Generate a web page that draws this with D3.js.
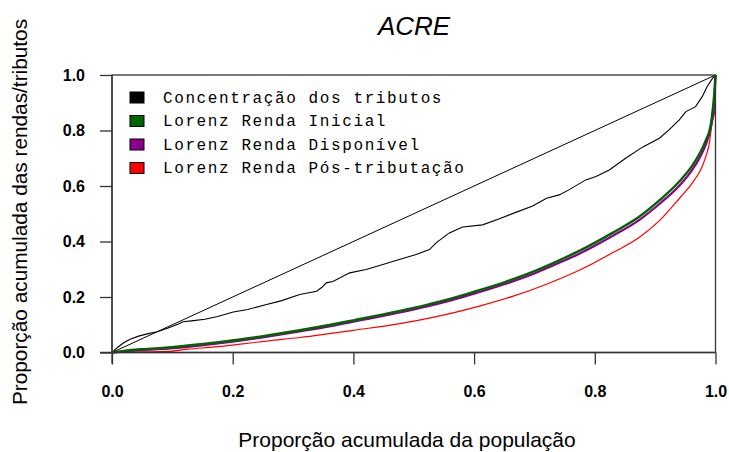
<!DOCTYPE html>
<html>
<head>
<meta charset="utf-8">
<script src="https://cdn.jsdelivr.net/npm/d3@7"></script>
<style>
  html, body { margin: 0; padding: 0; background: #fff; }
  svg { display: block; }
</style>
</head>
<body>
<svg id="chart" width="729" height="452"></svg>
<script>
// ---- data ----
const title = "ACRE";
const xLabel = "Proporção acumulada da população";
const yLabel = "Proporção acumulada das rendas/tributos";
const tickValues = [0, 0.2, 0.4, 0.6, 0.8, 1.0];
const seriesNames = ["Concentração dos tributos", "Lorenz Renda Inicial", "Lorenz Renda Disponível", "Lorenz Renda Pós-tributação"];
const seriesColors = ["#000000", "#006400", "#8B008B", "#FF0000"];

const equalityX = [0, 1];
const equalityY = [0, 1];

const concX = [0, 0.01, 0.02, 0.03, 0.044, 0.06, 0.075, 0.093, 0.11, 0.118, 0.135, 0.154, 0.175, 0.201, 0.225, 0.256, 0.28, 0.311, 0.339, 0.348, 0.355, 0.366, 0.394, 0.421, 0.449, 0.476, 0.504, 0.526, 0.537, 0.548, 0.559, 0.581, 0.614, 0.642, 0.669, 0.697, 0.72, 0.741, 0.757, 0.785, 0.802, 0.824, 0.851, 0.879, 0.907, 0.923, 0.94, 0.951, 0.967, 0.978, 0.986, 0.995, 1];
const concY = [0, 0.02, 0.036, 0.048, 0.059, 0.068, 0.075, 0.088, 0.103, 0.111, 0.115, 0.12, 0.13, 0.146, 0.155, 0.173, 0.186, 0.209, 0.221, 0.235, 0.251, 0.256, 0.287, 0.299, 0.317, 0.335, 0.353, 0.371, 0.395, 0.413, 0.431, 0.452, 0.46, 0.482, 0.505, 0.528, 0.556, 0.568, 0.586, 0.622, 0.634, 0.658, 0.7, 0.74, 0.772, 0.802, 0.838, 0.868, 0.886, 0.922, 0.958, 0.988, 1];

const iniX = [0, 0.02, 0.05, 0.093, 0.148, 0.209, 0.26, 0.311, 0.36, 0.4, 0.477, 0.52, 0.56, 0.6, 0.65, 0.7, 0.741, 0.775, 0.83, 0.874, 0.907, 0.94, 0.962, 0.978, 0.984, 0.992, 0.996, 0.998, 1];
const iniY = [0, 0.006, 0.012, 0.018, 0.03, 0.046, 0.062, 0.08, 0.099, 0.116, 0.15, 0.171, 0.193, 0.219, 0.253, 0.293, 0.332, 0.367, 0.432, 0.49, 0.548, 0.616, 0.675, 0.735, 0.765, 0.818, 0.886, 0.935, 1];

const dispX = [0, 0.02, 0.05, 0.093, 0.148, 0.209, 0.26, 0.311, 0.36, 0.4, 0.477, 0.52, 0.56, 0.6, 0.65, 0.7, 0.741, 0.775, 0.83, 0.874, 0.907, 0.94, 0.962, 0.978, 0.988, 0.994, 0.998, 1];
const dispY = [0, 0.004, 0.009, 0.014, 0.026, 0.042, 0.058, 0.076, 0.094, 0.111, 0.144, 0.165, 0.187, 0.212, 0.246, 0.285, 0.323, 0.357, 0.421, 0.478, 0.535, 0.601, 0.66, 0.72, 0.775, 0.83, 0.9, 1];

const posX = [0, 0.05, 0.093, 0.126, 0.17, 0.209, 0.26, 0.311, 0.36, 0.4, 0.477, 0.505, 0.56, 0.609, 0.665, 0.72, 0.775, 0.83, 0.874, 0.907, 0.94, 0.962, 0.978, 0.986, 0.989, 0.995, 0.999, 1];
const posY = [0, 0.002, 0.004, 0.012, 0.02, 0.029, 0.042, 0.054, 0.068, 0.08, 0.104, 0.115, 0.14, 0.167, 0.203, 0.246, 0.297, 0.36, 0.415, 0.475, 0.555, 0.612, 0.67, 0.72, 0.745, 0.838, 0.87, 1];

// ---- layout ----
const svg = d3.select("#chart");
const L = 112, R = 715.5, T = 75, B = 352.5;
const x = d3.scaleLinear().domain([0, 1]).range([L, R]);
const y = d3.scaleLinear().domain([0, 1]).range([B, T]);

const zip = (xs, ys) => xs.map((v, i) => [v, ys[i]]);
const line = d3.line().x(d => x(d[0])).y(d => y(d[1]));
const smooth = d3.line().x(d => x(d[0])).y(d => y(d[1])).curve(d3.curveMonotoneX);

// title
svg.append("text").attr("x", 414).attr("y", 35).attr("text-anchor", "middle")
  .attr("font-family", "Liberation Sans, Arial, sans-serif").attr("font-style", "italic")
  .attr("font-size", 26).attr("fill", "#000").text(title);

// curves
const g = svg.append("g");
g.append("path").attr("d", line(zip(equalityX, equalityY))).attr("fill", "none").attr("stroke", "#000").attr("stroke-width", 1);
g.append("path").attr("d", line(zip(concX, concY))).attr("fill", "none").attr("stroke", seriesColors[0]).attr("stroke-width", 1.1);
g.append("path").attr("d", smooth(zip(posX, posY))).attr("fill", "none").attr("stroke", seriesColors[3]).attr("stroke-width", 1.2);
g.append("path").attr("d", smooth(zip(dispX, dispY))).attr("fill", "none").attr("stroke", seriesColors[2]).attr("stroke-width", 2.2);
g.append("path").attr("d", smooth(zip(iniX, iniY))).attr("fill", "none").attr("stroke", seriesColors[1]).attr("stroke-width", 2.4);

// box
svg.append("rect").attr("x", L).attr("y", T).attr("width", R - L).attr("height", B - T)
  .attr("fill", "none").attr("stroke", "#333").attr("stroke-width", 1.3);

// axes
const xAxis = d3.axisBottom(x).tickValues(tickValues).tickFormat(d3.format(".1f")).tickSize(12).tickPadding(21);
const yAxis = d3.axisLeft(y).tickValues(tickValues).tickFormat(d3.format(".1f")).tickSize(12).tickPadding(15);
const gx = svg.append("g").attr("transform", `translate(0,${B})`).call(xAxis);
const gy = svg.append("g").attr("transform", `translate(${L},0)`).call(yAxis);
[gx, gy].forEach(a => {
  a.attr("font-size", 16).attr("font-family", "Liberation Sans, Arial, sans-serif");
  a.select(".domain").attr("stroke", "#333").attr("stroke-width", 1.3);
  a.selectAll(".tick line").attr("stroke", "#333").attr("stroke-width", 1.3);
  a.selectAll(".tick text").style("font-family", "Liberation Sans, Arial, sans-serif")
    .style("font-weight", "bold").style("font-size", "16px").attr("fill", "#000");
});
gx.select(".domain").attr("d", `M${L - 12},0H${R}`);
gy.select(".domain").attr("d", `M0,${T}V${B + 11}`);

// axis titles
svg.append("text").attr("x", 407).attr("y", 447).attr("text-anchor", "middle")
  .attr("font-family", "Liberation Sans, Arial, sans-serif").attr("font-size", 21).attr("fill", "#000").text(xLabel);
svg.append("text").attr("transform", "translate(27,212) rotate(-90)").attr("text-anchor", "middle")
  .attr("font-family", "Liberation Sans, Arial, sans-serif").attr("font-size", 20.8).attr("fill", "#000").text(yLabel);

// legend
const leg = svg.append("g");
seriesNames.forEach((name, i) => {
  const cy = 97.5 + i * 23.5;
  leg.append("rect").attr("x", 130).attr("y", cy - 5.5).attr("width", 14).attr("height", 11)
    .attr("fill", seriesColors[i]).attr("stroke", "#000").attr("stroke-width", 1);
  leg.append("text").attr("x", 163).attr("y", cy + 5).attr("font-family", "Liberation Mono, Courier New, monospace")
    .attr("font-size", 16).attr("letter-spacing", 1.6).attr("fill", "#000").text(name);
});
</script>
</body>
</html>
